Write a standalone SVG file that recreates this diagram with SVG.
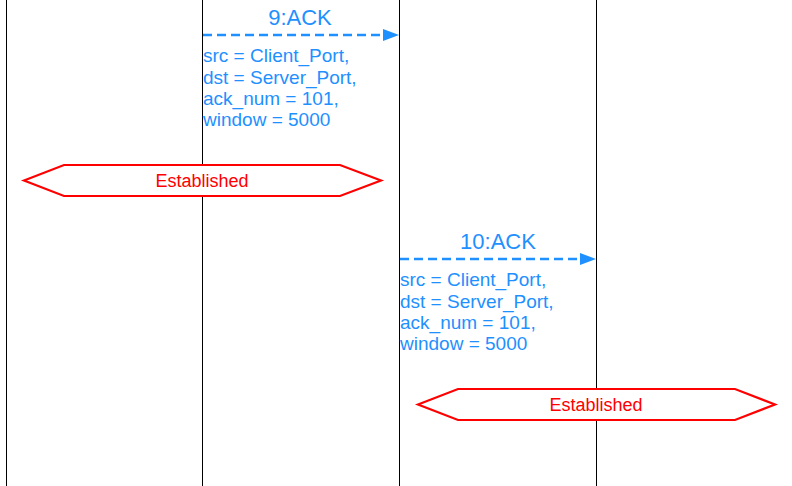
<svg xmlns="http://www.w3.org/2000/svg" width="792" height="486" viewBox="0 0 792 486">
<style>
.life{stroke:#000;stroke-width:1;fill:none}
.msg{stroke:#1E90FF;stroke-width:2.5;stroke-dasharray:9,5;fill:none}
.lbl{font-family:"Liberation Sans",Arial,sans-serif;fill:#1E90FF}
.title{font-size:22px;text-anchor:middle}
.body{font-size:19px}
.state{fill:#fff;stroke:#FF0000;stroke-width:2.2}
.stxt{font-family:"Liberation Sans",Arial,sans-serif;font-size:18px;fill:#FF0000;text-anchor:middle}
</style>
<defs>
<marker id="ah" markerWidth="16" markerHeight="12" refX="16" refY="6" orient="auto" markerUnits="userSpaceOnUse">
<path d="M0,0 L16,6 L0,12 Z" fill="#1E90FF"/>
</marker>
</defs>
<rect width="792" height="486" fill="#fff"/>
<g id="lifelines">
<line class="life" x1="6.5" y1="0" x2="6.5" y2="486"/>
<line class="life" x1="202.5" y1="0" x2="202.5" y2="486"/>
<line class="life" x1="399.5" y1="0" x2="399.5" y2="486"/>
<line class="life" x1="596.5" y1="0" x2="596.5" y2="486"/>
</g>
<g id="connectors">
<line class="msg" x1="203" y1="35" x2="399" y2="35" marker-end="url(#ah)"/>
<line class="msg" x1="400" y1="259" x2="596" y2="259" marker-end="url(#ah)"/>
</g>
<g id="msg9" class="lbl">
<text class="title" x="300" y="25">9:ACK</text>
<text class="body" x="203" y="62">src = Client_Port,</text>
<text class="body" x="203" y="84">dst = Server_Port,</text>
<text class="body" x="203" y="105">ack_num = 101,</text>
<text class="body" x="203" y="126">window = 5000</text>
</g>
<g id="state1">
<polygon class="state" points="24,180.5 64,165 340,165 381,180.5 340,196 64,196"/>
<text class="stxt" x="202" y="187">Established</text>
</g>
<g id="msg10" class="lbl">
<text class="title" x="498" y="249">10:ACK</text>
<text class="body" x="400" y="286">src = Client_Port,</text>
<text class="body" x="400" y="308">dst = Server_Port,</text>
<text class="body" x="400" y="329">ack_num = 101,</text>
<text class="body" x="400" y="350">window = 5000</text>
</g>
<g id="state2">
<polygon class="state" points="418,404.5 458,389 735,389 775,404.5 735,420 458,420"/>
<text class="stxt" x="596" y="411">Established</text>
</g>
</svg>
